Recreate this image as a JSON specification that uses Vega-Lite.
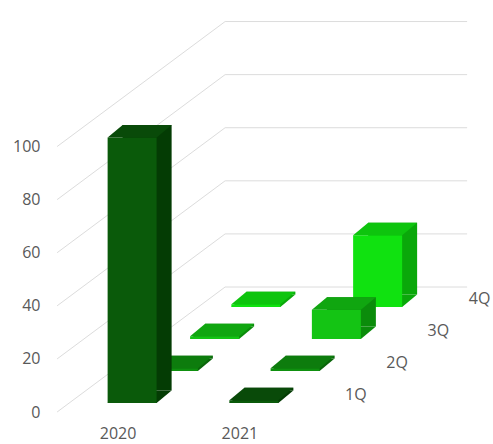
{
  "$schema": "https://vega.github.io/schema/vega-lite/v6.json",
  "width": 272,
  "height": 412,
  "autosize": {"type": "none"},
  "padding": {"left": 45, "top": 0, "right": 176, "bottom": 32},
  "background": "white",
  "config": {
    "view": {"stroke": null},
    "axis": {"domain": false, "ticks": false, "grid": false, "labelFont": "Open Sans", "labelFontSize": 16, "labelColor": "#595959"}
  },
  "data": {"values": [
    {"year": "2020", "quarter": "1Q", "value": 100},
    {"year": "2020", "quarter": "2Q", "value": 1},
    {"year": "2020", "quarter": "3Q", "value": 1},
    {"year": "2020", "quarter": "4Q", "value": 1},
    {"year": "2021", "quarter": "1Q", "value": 1},
    {"year": "2021", "quarter": "2Q", "value": 1},
    {"year": "2021", "quarter": "3Q", "value": 11},
    {"year": "2021", "quarter": "4Q", "value": 27}
  ]},
  "layer": [
    {
      "data": {"values": [{"value": 0}, {"value": 20}, {"value": 40}, {"value": 60}, {"value": 80}, {"value": 100}]},
      "layer": [
        {"mark": {"type": "rule", "color": "#dcdcdc", "strokeWidth": 1, "xOffset": -63, "x2Offset": 105, "y2Offset": -125},
         "encoding": {
           "x": {"datum": "2020", "scale": {"domain": ["2020", "2021"], "paddingInner": 0, "paddingOuter": 0.117}, "axis": {"labelAngle": 0, "labelPadding": 13, "labelOffset": -2, "title": null}},
           "x2": {"datum": "2020"},
           "y": {"field": "value", "type": "quantitative", "scale": {"domain": [0, 155.2], "nice": false}, "axis": {"values": [0, 20, 40, 60, 80, 100], "labelPadding": 5, "title": null}},
           "y2": {"field": "value"}}},
        {"mark": {"type": "rule", "color": "#dcdcdc", "strokeWidth": 1, "xOffset": 105, "x2Offset": 347, "yOffset": -125},
         "encoding": {
           "x": {"datum": "2020"},
           "x2": {"datum": "2020"},
           "y": {"field": "value", "type": "quantitative"}}}
      ]
    },
    {
      "transform": [{"filter": "datum.quarter === '4Q'"}],
      "layer": [
        {"transform": [{"filter": "datum.year === '2021'"}],
         "mark": {"type": "text", "font": "Open Sans", "fontSize": 16, "color": "#595959", "xOffset": 237.75, "yOffset": -113},
         "encoding": {"x": {"field": "year", "type": "nominal"}, "y": {"datum": 0}, "text": {"field": "quarter"}}},
        {"mark": {"type": "bar", "width": 49, "color": "#0aa80a", "xOffset": 150.75, "x2Offset": 150.75, "yOffset": -117.5, "y2Offset": -117.5},
         "encoding": {"x": {"field": "year", "type": "nominal"}, "y": {"field": "value", "type": "quantitative"}}},
        {"mark": {"type": "point", "shape": "M-0.6125,0L0.6125,0L0.9875,-0.3125L-0.2375,-0.3125Z", "size": 6400, "filled": true, "opacity": 1, "strokeWidth": 0, "color": "#0aa80a", "xOffset": 135.75, "yOffset": -105},
         "encoding": {"x": {"field": "year", "type": "nominal"}, "y": {"datum": 0}}},
        {"mark": {"type": "bar", "width": 49, "color": "#10e210", "xOffset": 135.75, "x2Offset": 135.75, "yOffset": -105, "y2Offset": -105},
         "encoding": {"x": {"field": "year", "type": "nominal"}, "y": {"field": "value", "type": "quantitative"}}},
        {"mark": {"type": "point", "shape": "M-0.6125,0L0.6125,0L0.9875,-0.3125L-0.2375,-0.3125Z", "size": 6400, "filled": true, "opacity": 1, "strokeWidth": 0, "color": "#0ec40e", "xOffset": 135.75, "yOffset": -105},
         "encoding": {"x": {"field": "year", "type": "nominal"}, "y": {"field": "value", "type": "quantitative"}}}
      ]
    },
    {
      "transform": [{"filter": "datum.quarter === '3Q'"}],
      "layer": [
        {"transform": [{"filter": "datum.year === '2021'"}],
         "mark": {"type": "text", "font": "Open Sans", "fontSize": 16, "color": "#595959", "xOffset": 196.5, "yOffset": -81},
         "encoding": {"x": {"field": "year", "type": "nominal"}, "y": {"datum": 0}, "text": {"field": "quarter"}}},
        {"mark": {"type": "bar", "width": 49, "color": "#0b8c0b", "xOffset": 109.5, "x2Offset": 109.5, "yOffset": -85.5, "y2Offset": -85.5},
         "encoding": {"x": {"field": "year", "type": "nominal"}, "y": {"field": "value", "type": "quantitative"}}},
        {"mark": {"type": "point", "shape": "M-0.6125,0L0.6125,0L0.9875,-0.3125L-0.2375,-0.3125Z", "size": 6400, "filled": true, "opacity": 1, "strokeWidth": 0, "color": "#0b8c0b", "xOffset": 94.5, "yOffset": -73},
         "encoding": {"x": {"field": "year", "type": "nominal"}, "y": {"datum": 0}}},
        {"mark": {"type": "bar", "width": 49, "color": "#14c414", "xOffset": 94.5, "x2Offset": 94.5, "yOffset": -73, "y2Offset": -73},
         "encoding": {"x": {"field": "year", "type": "nominal"}, "y": {"field": "value", "type": "quantitative"}}},
        {"mark": {"type": "point", "shape": "M-0.6125,0L0.6125,0L0.9875,-0.3125L-0.2375,-0.3125Z", "size": 6400, "filled": true, "opacity": 1, "strokeWidth": 0, "color": "#10a610", "xOffset": 94.5, "yOffset": -73},
         "encoding": {"x": {"field": "year", "type": "nominal"}, "y": {"field": "value", "type": "quantitative"}}}
      ]
    },
    {
      "transform": [{"filter": "datum.quarter === '2Q'"}],
      "layer": [
        {"transform": [{"filter": "datum.year === '2021'"}],
         "mark": {"type": "text", "font": "Open Sans", "fontSize": 16, "color": "#595959", "xOffset": 155.25, "yOffset": -49},
         "encoding": {"x": {"field": "year", "type": "nominal"}, "y": {"datum": 0}, "text": {"field": "quarter"}}},
        {"mark": {"type": "bar", "width": 49, "color": "#0a660a", "xOffset": 68.25, "x2Offset": 68.25, "yOffset": -53.5, "y2Offset": -53.5},
         "encoding": {"x": {"field": "year", "type": "nominal"}, "y": {"field": "value", "type": "quantitative"}}},
        {"mark": {"type": "point", "shape": "M-0.6125,0L0.6125,0L0.9875,-0.3125L-0.2375,-0.3125Z", "size": 6400, "filled": true, "opacity": 1, "strokeWidth": 0, "color": "#0a660a", "xOffset": 53.25, "yOffset": -41},
         "encoding": {"x": {"field": "year", "type": "nominal"}, "y": {"datum": 0}}},
        {"mark": {"type": "bar", "width": 49, "color": "#0f900f", "xOffset": 53.25, "x2Offset": 53.25, "yOffset": -41, "y2Offset": -41},
         "encoding": {"x": {"field": "year", "type": "nominal"}, "y": {"field": "value", "type": "quantitative"}}},
        {"mark": {"type": "point", "shape": "M-0.6125,0L0.6125,0L0.9875,-0.3125L-0.2375,-0.3125Z", "size": 6400, "filled": true, "opacity": 1, "strokeWidth": 0, "color": "#0d7c0d", "xOffset": 53.25, "yOffset": -41},
         "encoding": {"x": {"field": "year", "type": "nominal"}, "y": {"field": "value", "type": "quantitative"}}}
      ]
    },
    {
      "transform": [{"filter": "datum.quarter === '1Q'"}],
      "layer": [
        {"transform": [{"filter": "datum.year === '2021'"}],
         "mark": {"type": "text", "font": "Open Sans", "fontSize": 16, "color": "#595959", "xOffset": 114, "yOffset": -17},
         "encoding": {"x": {"field": "year", "type": "nominal"}, "y": {"datum": 0}, "text": {"field": "quarter"}}},
        {"mark": {"type": "bar", "width": 49, "color": "#043c04", "xOffset": 27, "x2Offset": 27, "yOffset": -21.5, "y2Offset": -21.5},
         "encoding": {"x": {"field": "year", "type": "nominal"}, "y": {"field": "value", "type": "quantitative"}}},
        {"mark": {"type": "point", "shape": "M-0.6125,0L0.6125,0L0.9875,-0.3125L-0.2375,-0.3125Z", "size": 6400, "filled": true, "opacity": 1, "strokeWidth": 0, "color": "#043c04", "xOffset": 12, "yOffset": -9},
         "encoding": {"x": {"field": "year", "type": "nominal"}, "y": {"datum": 0}}},
        {"mark": {"type": "bar", "width": 49, "color": "#0a5a0a", "xOffset": 12, "x2Offset": 12, "yOffset": -9, "y2Offset": -9},
         "encoding": {"x": {"field": "year", "type": "nominal"}, "y": {"field": "value", "type": "quantitative"}}},
        {"mark": {"type": "point", "shape": "M-0.6125,0L0.6125,0L0.9875,-0.3125L-0.2375,-0.3125Z", "size": 6400, "filled": true, "opacity": 1, "strokeWidth": 0, "color": "#094a09", "xOffset": 12, "yOffset": -9},
         "encoding": {"x": {"field": "year", "type": "nominal"}, "y": {"field": "value", "type": "quantitative"}}}
      ]
    }
  ]
}
